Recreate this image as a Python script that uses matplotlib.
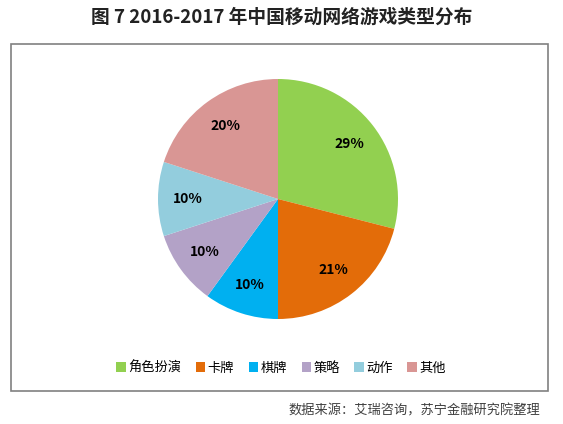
import matplotlib.pyplot as plt
from matplotlib.patches import Rectangle

plt.rcParams['font.family'] = ['Noto Sans CJK SC', 'DejaVu Sans']

labels = ['角色扮演', '卡牌', '棋牌', '策略', '动作', '其他']
shares = [29, 21, 10, 10, 10, 20]
colors = ['#92D050', '#E36C09', '#00B0F0', '#B3A2C7', '#93CDDD', '#D99694']

fig = plt.figure(figsize=(5.63, 4.24), dpi=100)

# frame around the chart area
fig.patches.append(Rectangle((11 / 563, 1 - 391 / 424), 537 / 563, 347 / 424,
                             transform=fig.transFigure, fill=False,
                             edgecolor='#808080', linewidth=1.2))

fig.text(0.5, 1 - 17 / 424, '图 7 2016-2017 年中国移动网络游戏类型分布',
         ha='center', va='center', fontsize=13.5, fontweight='bold', color='#222222')

# pie: centre (278, 199), radius 120 px
r = 120
ax = fig.add_axes([(278 - r) / 563, 1 - (199 + r) / 424, 2 * r / 563, 2 * r / 424])
wedges, texts, autotexts = ax.pie(shares, colors=colors, startangle=90, counterclock=False,
                                  autopct='%d%%', pctdistance=0.75,
                                  wedgeprops=dict(linewidth=0))
for t in autotexts:
    t.set_fontsize(10)
    t.set_fontweight('bold')
    t.set_color('black')
ax.set_xlim(-1, 1)
ax.set_ylim(-1, 1)
ax.set_aspect('equal')

fig.legend(wedges, labels, loc='center', bbox_to_anchor=(281 / 563, 1 - 368 / 424),
           ncol=6, frameon=False, fontsize=9.5, handlelength=0.7, handleheight=0.7,
           handletextpad=0.2, columnspacing=1.1)

fig.text(540 / 563, 1 - 411 / 424, '数据来源：艾瑞咨询，苏宁金融研究院整理',
         ha='right', va='center', fontsize=9.5, style='italic', color='#404040')

fig.savefig('out.png', dpi=100)
